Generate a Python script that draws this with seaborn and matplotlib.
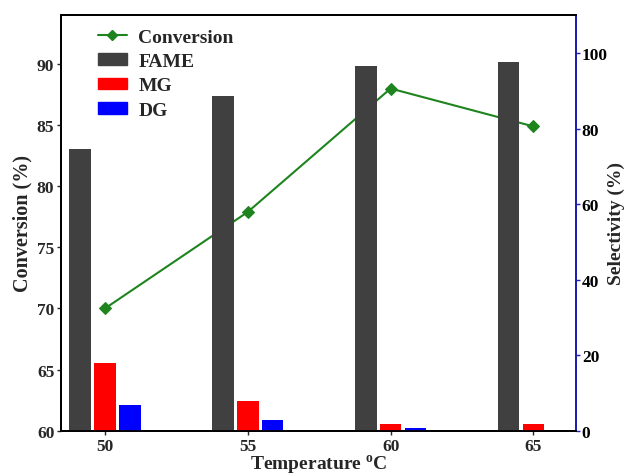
import numpy as np
import pandas as pd
import matplotlib
matplotlib.use("Agg")
import matplotlib.pyplot as plt
from matplotlib.lines import Line2D
from matplotlib.patches import Patch
import seaborn as sns

temps = [50, 55, 60, 65]
conversion = [70.0, 77.9, 88.0, 84.9]
fame = [74.6, 88.7, 96.6, 97.6]
mg = [17.8, 7.9, 1.8, 1.8]
dg = [6.8, 2.9, 0.8, 0.0]
products = ["FAME", "MG", "DG"]
colors = {"FAME": "#404040", "MG": "#ff0000", "DG": "#0000ff"}

sel = pd.DataFrame({
    "Temperature": temps * 3,
    "Selectivity": fame + mg + dg,
    "Product": ["FAME"] * 4 + ["MG"] * 4 + ["DG"] * 4,
})
conv = pd.DataFrame({"Temperature": temps, "Conversion": conversion})

sns.set_style("ticks")
plt.rcParams["font.family"] = ["Liberation Serif", "DejaVu Serif"]
plt.rcParams["font.weight"] = "bold"
plt.rcParams["mathtext.fontset"] = "custom"
plt.rcParams["mathtext.rm"] = "Liberation Serif:bold"

fig, ax = plt.subplots(figsize=(6.25, 4.77), dpi=100)
fig.subplots_adjust(left=0.098, right=0.922, top=0.966, bottom=0.095)

green = "#1e841e"
sns.lineplot(data=conv, x="Temperature", y="Conversion", color=green, marker="D",
             markersize=6, markeredgecolor=green, linewidth=1.5, ax=ax)
ax.set_ylim(60, 94)
ax.set_yticks([60, 65, 70, 75, 80, 85, 90])
ax.set_xlim(48.47, 66.5)
ax.set_xticks(temps)

ax2 = ax.twinx()
sns.barplot(data=sel, x="Temperature", y="Selectivity", hue="Product", hue_order=products,
            palette=colors, saturation=1, native_scale=True, width=0.522, gap=0.13,
            linewidth=0, legend=False, ax=ax2)
ax2.set_ylim(0, 110)
ax2.set_yticks([0, 20, 40, 60, 80, 100])
ax2.set_xlim(48.47, 66.5)

ax.set_xlabel("Temperature $^{\\mathregular{o}}$C", fontsize=14, fontweight="bold", labelpad=-1)
ax.set_ylabel("Conversion (%)", fontsize=14.5, fontweight="bold", labelpad=3)
ax2.set_ylabel("Selectivity (%)", fontsize=14, fontweight="bold", labelpad=0)

for a in (ax, ax2):
    a.tick_params(labelsize=12.5, length=3, width=1, pad=2)
    for lab in a.get_xticklabels() + a.get_yticklabels():
        lab.set_fontweight("bold")
    for s in a.spines.values():
        s.set_linewidth(1.3)
        s.set_color("black")
ax2.spines["right"].set_color("#2020c0")
ax2.tick_params(axis="y", colors="#2020c0", labelcolor="black", pad=1)

handles = [Line2D([], [], color=green, marker="D", markersize=5, linewidth=1.5)]
handles += [Patch(facecolor=colors[p], edgecolor=colors[p]) for p in products]
ax2.legend(handles, ["Conversion"] + products, loc="upper left", bbox_to_anchor=(0.038, 1.01),
           frameon=False, prop={"size": 14, "weight": "bold"}, handlelength=1.45,
           handleheight=0.55, handletextpad=0.6, labelspacing=0.38)

fig.savefig("out.png", dpi=100)
